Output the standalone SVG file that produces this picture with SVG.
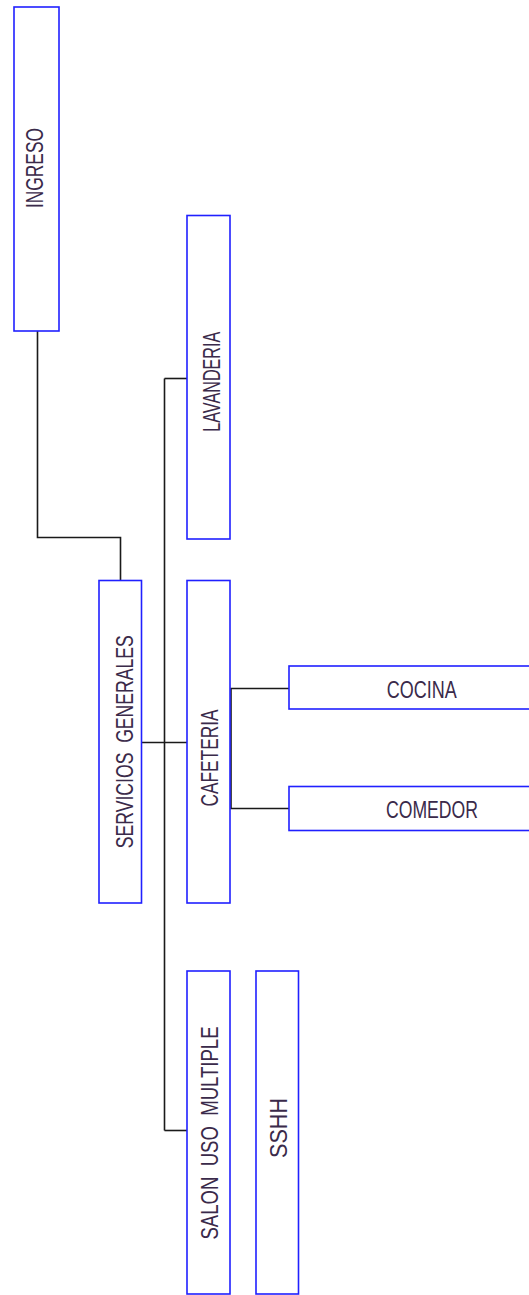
<svg xmlns="http://www.w3.org/2000/svg" width="529" height="1295" viewBox="0 0 529 1295">
<style>
.box{fill:#fff;stroke:#2020ff;stroke-width:1.6}
.lbl{font-family:"Liberation Sans",Arial,sans-serif;font-size:23px;fill:#3a2a4a;text-anchor:middle}
.con{fill:none;stroke:#1a1a1a;stroke-width:1.6}
</style>
<rect width="529" height="1295" fill="#fff"/>
<g id="connectors">
<polyline class="con" points="37.5,331 37.5,537.5 120.5,537.5 120.5,580"/>
<line class="con" x1="164.5" y1="378.5" x2="164.5" y2="1130.5"/>
<line class="con" x1="164.5" y1="378.5" x2="187" y2="378.5"/>
<line class="con" x1="141" y1="742.5" x2="187" y2="742.5"/>
<line class="con" x1="164.5" y1="1130.5" x2="187" y2="1130.5"/>
<polyline class="con" points="289,688.5 231,688.5 231,808.5 289,808.5"/>
</g>
<g id="ingreso">
<rect class="box" x="14" y="7" width="45" height="324"/>
<text class="lbl" transform="translate(43.3,168) rotate(-90)" textLength="80" lengthAdjust="spacingAndGlyphs">INGRESO</text>
</g>
<g id="servicios">
<rect class="box" x="99" y="580.5" width="42.5" height="322.5"/>
<text class="lbl" xml:space="preserve" transform="translate(132.7,741.7) rotate(-90)" textLength="213" lengthAdjust="spacingAndGlyphs">SERVICIOS  GENERALES</text>
</g>
<g id="lavanderia">
<rect class="box" x="187" y="215.5" width="43" height="323.5"/>
<text class="lbl" transform="translate(220,381.7) rotate(-90)" textLength="100" lengthAdjust="spacingAndGlyphs">LAVANDERIA</text>
</g>
<g id="cafeteria">
<rect class="box" x="187" y="580.5" width="43" height="322.5"/>
<text class="lbl" transform="translate(218.3,758) rotate(-90)" textLength="97" lengthAdjust="spacingAndGlyphs">CAFETERIA</text>
</g>
<g id="cocina">
<rect class="box" x="289" y="666" width="250" height="43"/>
<text class="lbl" x="421.7" y="697.7" textLength="70" lengthAdjust="spacingAndGlyphs">COCINA</text>
</g>
<g id="comedor">
<rect class="box" x="289" y="786.5" width="250" height="44"/>
<text class="lbl" x="432" y="817.7" textLength="92" lengthAdjust="spacingAndGlyphs">COMEDOR</text>
</g>
<g id="salon">
<rect class="box" x="187" y="971" width="43" height="323"/>
<text class="lbl" xml:space="preserve" transform="translate(218.3,1133) rotate(-90)" textLength="213" lengthAdjust="spacingAndGlyphs">SALON  USO  MULTIPLE</text>
</g>
<g id="sshh">
<rect class="box" x="256" y="971" width="42.5" height="323"/>
<text class="lbl" transform="translate(287.3,1128) rotate(-90)" textLength="60" lengthAdjust="spacingAndGlyphs">SSHH</text>
</g>
</svg>
